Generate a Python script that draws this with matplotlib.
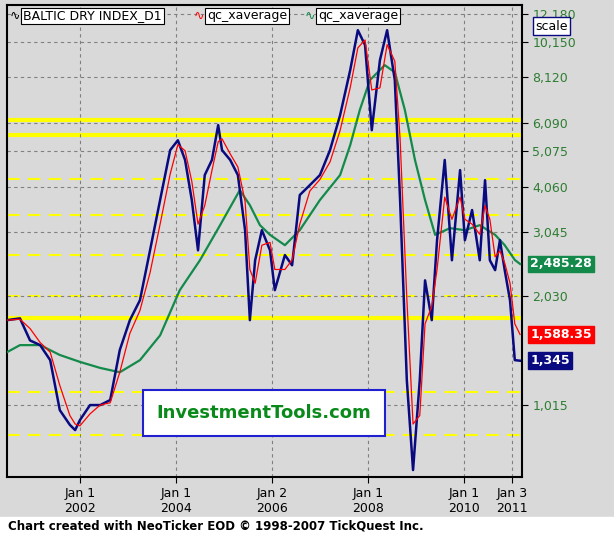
import matplotlib
matplotlib.use("Agg")
import matplotlib.pyplot as plt
from matplotlib.patches import Rectangle

years = [2000.48,2000.75,2000.96,2001.17,2001.38,2001.58,2001.79,2001.90,2002.0,2002.21,2002.42,2002.63,2002.83,
         2003.04,2003.25,2003.46,2003.67,2003.88,2004.04,2004.19,2004.33,2004.46,2004.60,2004.75,2004.88,2004.96,
         2005.13,2005.29,2005.44,2005.54,2005.65,2005.79,2005.96,2006.06,2006.27,2006.42,2006.58,2006.79,2007.0,
         2007.21,2007.42,2007.63,2007.79,2007.94,2008.08,2008.25,2008.40,2008.56,2008.67,2008.81,2008.94,2009.08,
         2009.19,2009.33,2009.44,2009.60,2009.75,2009.92,2010.02,2010.17,2010.33,2010.44,2010.54,2010.65,2010.75,
         2010.85,2010.96,2011.06,2011.17]
bdi = [1740,1760,1530,1485,1350,983,895,866,923,1015,1015,1048,1440,1740,1975,2710,3730,5120,5450,4810,3730,2710,
       4370,4810,6000,5120,4810,4370,3080,1740,2545,3080,2710,2105,2630,2465,3850,4100,4370,5120,6390,8500,10960,
       9970,5810,9060,10960,7980,3730,1190,672,1190,2240,1740,2890,4810,2545,4510,2890,3500,2545,4230,2545,2390,
       2890,2390,1975,1350,1345]
fast_avg = [1740,1750,1650,1510,1420,1150,950,900,890,960,1015,1030,1250,1600,1850,2350,3200,4400,5300,5100,4200,
            3200,3600,4500,5400,5500,5000,4600,3700,2400,2200,2800,2850,2400,2400,2550,3200,3950,4250,4750,5800,7600,
            9800,10300,7500,7600,10000,9000,5500,2000,900,950,1700,1900,2400,3800,3300,3800,3300,3200,3000,3600,3300,
            2600,2700,2500,2200,1700,1588.35]
slow_years = [2000.48,2000.75,2001.17,2001.58,2002.0,2002.42,2002.83,2003.25,2003.67,2004.08,2004.5,2004.92,2005.33,
              2005.54,2005.75,2005.96,2006.27,2006.58,2007.0,2007.42,2007.63,2007.83,2008.04,2008.35,2008.56,2008.77,
              2008.98,2009.19,2009.4,2009.71,2010.02,2010.33,2010.65,2010.85,2011.06,2011.17]
slow_avg = [1420,1485,1485,1395,1335,1285,1250,1350,1580,2105,2545,3180,3970,3610,3180,2990,2800,3080,3730,4370,5280,
            6600,7980,8780,8390,6600,4810,3730,2990,3120,3080,3180,2990,2800,2550,2485.28]
tick_years = [2002.0,2004.0,2006.0,2008.0,2010.0,2011.0]
tick_labels = ["Jan 1\n2002","Jan 1\n2004","Jan 2\n2006","Jan 1\n2008","Jan 1\n2010","Jan 3\n2011"]
y_ticks = [1015,2030,3045,4060,5075,6090,8120,10150,12180]
yellow_solid = [6190,5630,1760]
yellow_dashed = [4260,3390,2630,2030,1100,840]

W,H = 614,535
fig = plt.figure(figsize=(W/100,H/100), dpi=100, facecolor="#d9d9d9")
fig.patches.append(Rectangle((0,0),1,18/H,transform=fig.transFigure,color="white",zorder=0))
fig.text(8/W,9/H,"Chart created with NeoTicker EOD © 1998-2007 TickQuest Inc.",fontsize=8.5,weight="bold",va="center")
ax = fig.add_axes([7/W,(H-477)/H,515/W,472/H])
ax.set_facecolor("#d9d9d9")
ax.set_yscale("log")
ax.set_ylim(643,12860)
ax.set_xlim(2000.48,2011.21)
for v in yellow_solid:
    ax.axhline(v,color="#ffff00",lw=3,zorder=1)
for v in yellow_dashed:
    ax.axhline(v,color="#ffff00",lw=1.5,ls=(0,(6,4)),zorder=1)
for v in y_ticks:
    ax.axhline(v,color="gray",lw=0.8,ls=(0,(3,3)),zorder=1)
for t in tick_years:
    ax.axvline(t,color="gray",lw=0.8,ls=(0,(3,3)),zorder=1)
ax.plot(slow_years,slow_avg,color="#138a4a",lw=1.6,zorder=3)
ax.plot(years,bdi,color="#0a0a80",lw=1.8,zorder=4)
ax.plot(years,fast_avg,color="#ff0000",lw=0.9,zorder=5)
ax.yaxis.tick_right()
ax.set_yticks(y_ticks)
ax.set_yticklabels([f"{v:,}" for v in y_ticks],color="#2e7d32",fontsize=9)
ax.yaxis.set_minor_locator(matplotlib.ticker.NullLocator())
ax.set_xticks(tick_years)
ax.set_xticklabels(tick_labels,fontsize=9)
ax.tick_params(axis="both",length=4)
for s in ax.spines.values():
    s.set_linewidth(1.5)
for val,txt,col in [(2485.28,"2,485.28","#138a4a"),(1588.35,"1,588.35","#ff0000"),(1345,"1,345","#0a0a80")]:
    ax.annotate(txt,xy=(1.0,val),xycoords=("axes fraction","data"),xytext=(6,0),textcoords="offset points",
                va="center",ha="left",color="white",fontsize=9,weight="bold",
                bbox=dict(boxstyle="square,pad=0.15",fc=col,ec=col),annotation_clip=False)
fig.text(535/W,(H-26)/H,"scale",fontsize=9,va="center",
         bbox=dict(boxstyle="square,pad=0.2",fc="white",ec="#0a0a80"))
leg = [("BALTIC DRY INDEX_D1",10/W,"black"),("qc_xaverage",194/W,"#ff0000"),("qc_xaverage",305/W,"#138a4a")]
for txt,x,c in leg:
    fig.text(x,(H-16)/H,"∿ ",color=c,fontsize=9,va="center")
    fig.text(x+13/W,(H-16)/H,txt,fontsize=9,va="center",
             bbox=dict(boxstyle="square,pad=0.15",fc="white",ec="black",lw=0.8))
ax.text((264-7)/515,1-(413-5)/472,"InvestmentTools.com",transform=ax.transAxes,fontsize=13,weight="bold",
        color="#0a8a1a",va="center",ha="center",
        bbox=dict(boxstyle="square,pad=0.75",fc="white",ec="#2020d0",lw=1.5))
fig.savefig("out.png",dpi=100,facecolor=fig.get_facecolor())
